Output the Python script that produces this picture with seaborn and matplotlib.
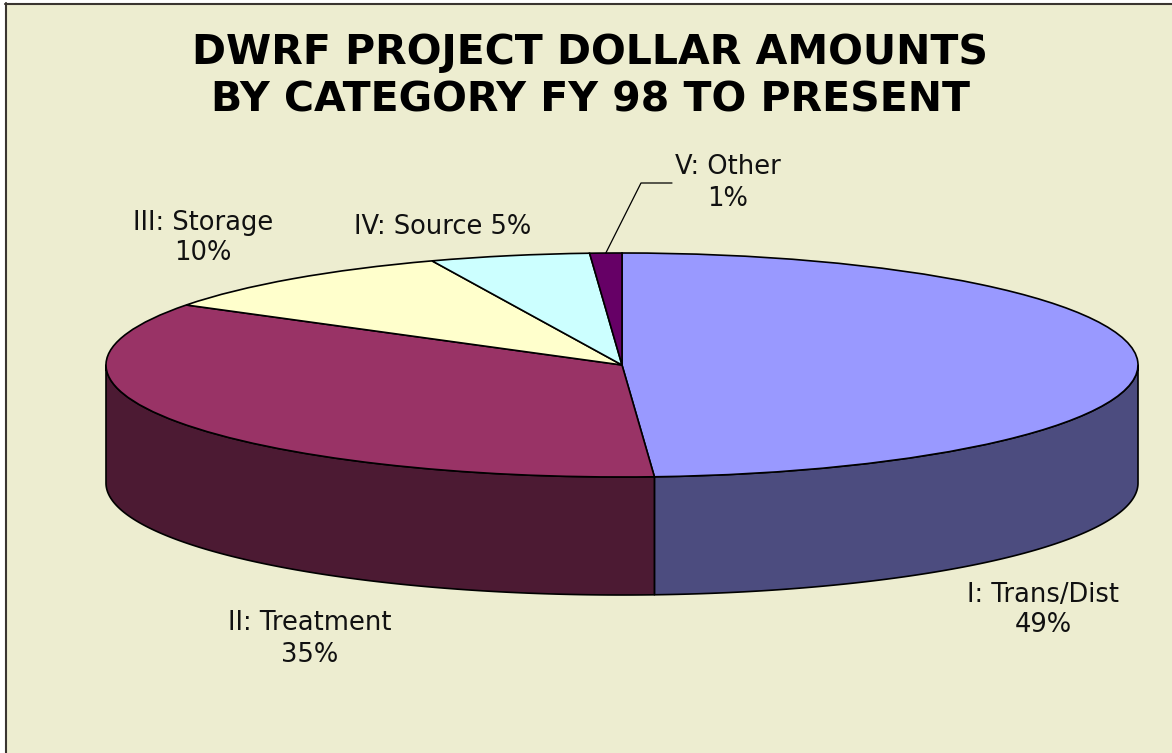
import numpy as np
import matplotlib
matplotlib.use("Agg")
import matplotlib.pyplot as plt
from matplotlib.patches import Polygon, Rectangle
from matplotlib.lines import Line2D
import seaborn as sns

# ---- data ----
categories = ["I: Trans/Dist", "II: Treatment", "III: Storage", "IV: Source", "V: Other"]
percent = [49, 35, 10, 5, 1]
top_colors = ["#9999FF", "#993366", "#FFFFCC", "#CCFFFF", "#660066"]
side_colors = ["#4C4C7F", "#4C1A33", "#80806A", "#668080", "#330033"]
title = "DWRF PROJECT DOLLAR AMOUNTS\nBY CATEGORY FY 98 TO PRESENT"

sns.set_theme(style="white")
plt.rcParams["font.family"] = ["DejaVu Sans"]

W, H = 1172, 753
BG = "#EDEDD0"
fig = plt.figure(figsize=(W / 100, H / 100), dpi=100, facecolor=BG)

def fx(px):
    return px / W

def fy(py):
    return 1 - py / H

# outer white margin and frame lines (top / left)
fig.add_artist(Rectangle((0, fy(3.5)), 1, 3.5 / H, transform=fig.transFigure,
                         facecolor="white", edgecolor="none", zorder=0))
fig.add_artist(Rectangle((0, 0), fx(5), 1, transform=fig.transFigure,
                         facecolor="white", edgecolor="none", zorder=0))
fig.add_artist(Line2D([fx(5), 1], [fy(4), fy(4)], transform=fig.transFigure,
                      color="#3A3530", lw=1.5))
fig.add_artist(Line2D([fx(5.5), fx(5.5)], [fy(3), 0], transform=fig.transFigure,
                      color="#3A3530", lw=1.5))

# ---- pie geometry (layout) ----
cx, cy = 622, 365          # centre in px
rx, ry = 516, 112          # ellipse radii in px
depth = 118 / ry           # wall height in y data units
xl = (-1.02, 1.02)
yl = (-2.25, 1.08)
left_px = cx + xl[0] * rx
top_px = cy - yl[1] * ry
bot_px = cy - yl[0] * ry
ax = fig.add_axes([fx(left_px), fy(bot_px), (xl[1] - xl[0]) * rx / W, (bot_px - top_px) / H])
ax.patch.set_alpha(0)

wedges, _ = ax.pie(percent, colors=top_colors, startangle=90, counterclock=False,
                   wedgeprops=dict(edgecolor="black", linewidth=1.2, zorder=3))
ax.set_aspect("auto")
ax.set_xlim(*xl)
ax.set_ylim(*yl)
ax.axis("off")

# side walls (front half only)
frac = np.array(percent, dtype=float) / np.sum(percent)
cum = np.concatenate([[0], np.cumsum(frac)])
for i in range(len(percent)):
    t0, t1 = 360 * cum[i], 360 * cum[i + 1]
    a, b = max(t0, 90), min(t1, 270)
    if a < b:
        t = np.radians(np.linspace(a, b, 200))
        xs, ys = np.sin(t), np.cos(t)
        pts = np.column_stack([np.concatenate([xs, xs[::-1]]),
                               np.concatenate([ys, ys[::-1] - depth])])
        ax.add_patch(Polygon(pts, closed=True, facecolor=side_colors[i],
                             edgecolor="black", linewidth=1.2, joinstyle="round", zorder=1))

# ---- labels ----
lab_fs = 18.5
label_pos = [(1043, 610), (310, 639), (203, 238), (443, 227), (728, 183)]
for i, (cat, p) in enumerate(zip(categories, percent)):
    txt = f"{cat} {p}%" if i == 3 else f"{cat}\n{p}%"
    x, y = label_pos[i]
    fig.text(fx(x), fy(y), txt, ha="center", va="center", multialignment="center",
             fontsize=lab_fs, color="#111111", linespacing=1.25)

# leader line for the smallest slice
tm = np.radians(360 * (cum[4] + cum[5]) / 2)
x0, y0 = np.sin(tm), np.cos(tm)
ex, ey = (641 - cx) / rx, (cy - 183) / ry
hx = (672 - cx) / rx
ax.plot([x0, ex, hx], [y0, ey, ey], color="black", lw=0.9, clip_on=False, zorder=4)

# ---- title ----
fig.text(fx(590), fy(77), title, ha="center", va="center", multialignment="center",
         fontsize=29.5, fontweight="bold", color="black", linespacing=1.25)

fig.savefig("out.png", dpi=100, facecolor=BG)
